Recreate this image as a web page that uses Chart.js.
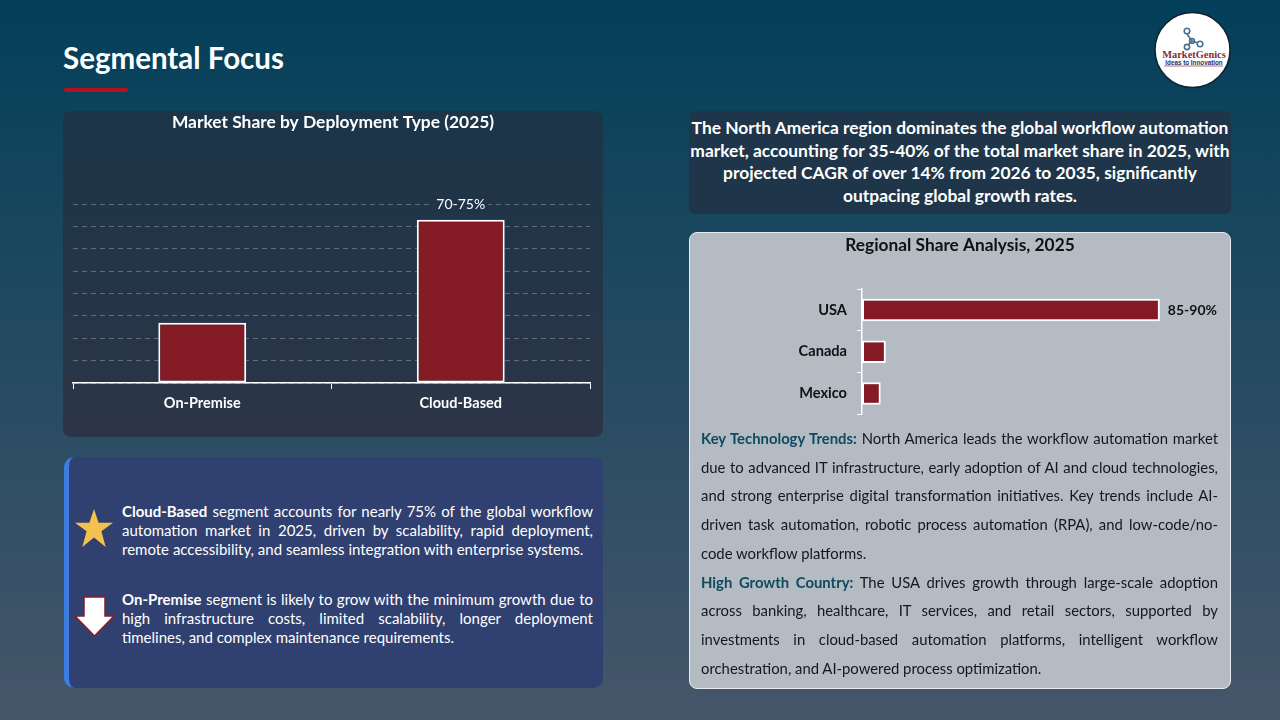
<!DOCTYPE html>
<html lang="en">
<head>
  <meta charset="UTF-8" />
  <title>Segmental Focus</title>
  <script src="https://cdn.jsdelivr.net/npm/chart.js"></script>
  <style>
    * { box-sizing: border-box; }
    html, body { margin: 0; padding: 0; }
    body { width: 1280px; height: 720px; position: relative; overflow: hidden; font-family: Lato, sans-serif;
      background: linear-gradient(180deg, #033f59 0%, #46566a 100%); }
    .abs { position: absolute; }
    h1 { position: absolute; left: 63px; top: 40px; margin: 0; font-size: 29.5px; line-height: 36px; font-weight: 700; color: #fff; }
    .rule { left: 64px; top: 88px; width: 64px; height: 4px; background: #b3121d; border-radius: 2px; }
    .panel-left { left: 63px; top: 111px; width: 540px; height: 326px; border-radius: 8px;
      background: linear-gradient(180deg, #1c3549 0%, #2c3547 100%); }
    .panel-note { left: 689px; top: 111px; width: 542px; height: 103px; border-radius: 6px; background: #1f3549;
      color: #fff; font-weight: 700; font-size: 17.4px; line-height: 22.6px; text-align: center; padding-top: 6px; white-space: nowrap; }
    .panel-blue { left: 64px; top: 457px; width: 539px; height: 231px; border-radius: 10px; background: #304070;
      border-left: 5px solid #3b7de0; color: #fff; }
    .panel-grey { left: 689px; top: 232px; width: 542px; height: 457px; border-radius: 8px; background: #b4bbc3;
      border: 1px solid #e8ebee; }
    canvas { position: absolute; display: block; }
    .j span { display: block; text-align: justify; text-align-last: justify; white-space: nowrap; }
    .j span.end { text-align-last: left; }
    .seg { left: 122px; width: 471px; font-size: 15px; line-height: 19px; color: #fff; }
    .trend { left: 701px; top: 424px; width: 517px; font-size: 14.85px; line-height: 28.72px; color: #14181c; }
    .trend b { color: #0f4a5f; }
  </style>
</head>
<body>

  <h1>Segmental Focus</h1>
  <div class="abs rule"></div>

  <div class="abs panel-left"></div>
  <canvas id="deploymentChart" width="540" height="326" style="left:63px;top:111px"></canvas>

  <div class="abs panel-blue"></div>
  <svg class="abs" style="left:70px;top:500px" width="50" height="145" viewBox="70 500 50 145">
    <polygon points="94,509 98.6,522.7 113,522.7 101.4,531.3 105.7,547 94,537.6 82.3,547 86.6,531.3 75,522.7 89.4,522.7" fill="#f2c14e" />
    <polygon points="84,597 105,597 105,616 114,616 94.5,636 75,616 84,616" fill="#fff" stroke="#8a1a26" stroke-width="1.5" />
  </svg>
  <div class="abs seg j" style="top:502px">
    <span><b>Cloud-Based</b> segment accounts for nearly 75% of the global workflow</span>
    <span>automation market in 2025, driven by scalability, rapid deployment,</span>
    <span class="end">remote accessibility, and seamless integration with enterprise systems.</span>
  </div>
  <div class="abs seg j" style="top:590px">
    <span><b>On-Premise</b> segment is likely to grow with the minimum growth due to</span>
    <span>high infrastructure costs, limited scalability, longer deployment</span>
    <span class="end">timelines, and complex maintenance requirements.</span>
  </div>

  <div class="abs panel-note">
    The North America region dominates the global workflow automation<br>
    market, accounting for 35-40% of the total market share in 2025, with<br>
    projected CAGR of over 14% from 2026 to 2035, significantly<br>
    outpacing global growth rates.
  </div>

  <div class="abs panel-grey"></div>
  <canvas id="regionChart" width="542" height="201" style="left:689px;top:232px"></canvas>
  <div class="abs trend j">
    <span><b>Key Technology Trends:</b> North America leads the workflow automation market</span>
    <span>due to advanced IT infrastructure, early adoption of AI and cloud technologies,</span>
    <span>and strong enterprise digital transformation initiatives. Key trends include AI-</span>
    <span>driven task automation, robotic process automation (RPA), and low-code/no-</span>
    <span class="end">code workflow platforms.</span>
    <span><b>High Growth Country:</b> The USA drives growth through large-scale adoption</span>
    <span>across banking, healthcare, IT services, and retail sectors, supported by</span>
    <span>investments in cloud-based automation platforms, intelligent workflow</span>
    <span class="end">orchestration, and AI-powered process optimization.</span>
  </div>

  <svg class="abs" style="left:1152px;top:10px" width="81" height="80" viewBox="0 0 81 80">
    <circle cx="40.5" cy="40" r="37.5" fill="#fff" stroke="#10202c" stroke-width="1.5" />
    <g fill="none" stroke="#4a6f8f" stroke-width="1.6">
      <line x1="35" y1="24" x2="40" y2="31" />
      <line x1="40" y1="31" x2="46" y2="33" />
      <line x1="40" y1="31" x2="36" y2="35" />
      <circle cx="35" cy="21" r="2.8" />
      <circle cx="40" cy="31" r="2.4" />
      <circle cx="48" cy="34" r="2.8" />
      <circle cx="35" cy="37" r="2.6" />
    </g>
    <text x="42" y="48" text-anchor="middle" font-family="Liberation Serif" font-weight="700" font-size="10.4" fill="#8a2a3a">MarketGenics</text>
    <text x="42" y="54.5" text-anchor="middle" font-family="Liberation Sans" font-weight="700" font-size="6.3" fill="#26306a">Ideas to Innovation</text>
    <line x1="12" y1="56" x2="71" y2="56" stroke="#a02a3a" stroke-width="0.7" />
  </svg>

  <script>
    const deploymentLabels = ['On-Premise', 'Cloud-Based'];
    const deploymentValues = [27, 73];
    const deploymentText = ['', '70-75%'];

    const regionLabels = ['USA', 'Canada', 'Mexico'];
    const regionValues = [87.5, 7, 5.5];
    const regionText = ['85-90%', '', ''];

    const FONT = 'Lato, sans-serif';
    const BAR_RED = '#831a24';

    // writes the text labels next to the bars
    const barText = {
      id: 'barText',
      afterDatasetsDraw(chart, args, opts) {
        const ctx = chart.ctx;
        const horizontal = chart.options.indexAxis === 'y';
        ctx.save();
        ctx.font = opts.font;
        chart.getDatasetMeta(0).data.forEach((bar, i) => {
          const text = opts.text[i];
          if (!text) return;
          ctx.textBaseline = 'middle';
          if (horizontal) {
            ctx.textAlign = 'left';
            ctx.fillStyle = opts.color;
            ctx.fillText(text, bar.x + 8, bar.y);
          } else {
            ctx.textAlign = 'center';
            const w = ctx.measureText(text).width;
            ctx.fillStyle = opts.mask;
            ctx.fillRect(bar.x - w / 2 - 3, bar.y - 25, w + 6, 18);
            ctx.fillStyle = opts.color;
            ctx.fillText(text, bar.x, bar.y - 15.5);
          }
        });
        ctx.restore();
      }
    };

    new Chart(document.getElementById('deploymentChart'), {
      type: 'bar',
      plugins: [barText],
      data: {
        labels: deploymentLabels,
        datasets: [{
          data: deploymentValues,
          backgroundColor: BAR_RED,
          borderColor: '#fff',
          borderWidth: 2,
          borderSkipped: false,
          barPercentage: 0.34,
          categoryPercentage: 1
        }]
      },
      options: {
        responsive: false,
        animation: false,
        plugins: {
          legend: { display: false },
          tooltip: { enabled: false },
          title: {
            display: true,
            text: 'Market Share by Deployment Type (2025)',
            color: '#fff',
            font: { family: FONT, size: 17.4, weight: '700' },
            padding: { top: 1, bottom: 71.3 }
          },
          barText: { text: deploymentText, font: '14px ' + FONT, color: '#fff', mask: '#1f3449' }
        },
        scales: {
          x: {
            afterFit: s => { s.height = 54; },
            border: { color: '#fff', width: 1.5 },
            grid: { drawOnChartArea: false, color: '#fff', tickLength: 6, offset: true },
            ticks: { color: '#fff', padding: 6, font: { family: FONT, size: 14.5, weight: '700' } }
          },
          y: {
            min: 0,
            max: 80,
            afterFit: s => { s.width = 10; },
            border: { display: false, dash: [5, 4] },
            grid: { color: 'rgba(255,255,255,0.28)', drawTicks: false, lineWidth: 1 },
            ticks: { display: false, stepSize: 10 }
          },
          // empty axis, holds the plot off the right edge without moving the title
          side: {
            position: 'right',
            afterFit: s => { s.width = 13; },
            border: { display: false },
            grid: { display: false },
            ticks: { display: false }
          }
        }
      }
    });

    new Chart(document.getElementById('regionChart'), {
      type: 'bar',
      plugins: [barText],
      data: {
        labels: regionLabels,
        datasets: [{
          data: regionValues,
          backgroundColor: BAR_RED,
          borderColor: '#fff',
          borderWidth: 2,
          borderSkipped: false,
          barPercentage: 0.54,
          categoryPercentage: 1
        }]
      },
      options: {
        indexAxis: 'y',
        responsive: false,
        animation: false,
        layout: { padding: { bottom: 2 } },
        plugins: {
          legend: { display: false },
          tooltip: { enabled: false },
          title: {
            display: true,
            text: 'Regional Share Analysis, 2025',
            color: '#111',
            font: { family: FONT, size: 17.3, weight: '700' },
            padding: { top: 3, bottom: 33.4 }
          },
          barText: { text: regionText, font: '700 14px ' + FONT, color: '#111' }
        },
        scales: {
          x: { display: false, min: 0, max: 108.4 },
          y: {
            afterFit: s => { s.width = 173; },
            border: { color: '#fff', width: 1.5 },
            grid: { drawOnChartArea: false, color: '#fff', tickLength: 5, offset: true },
            ticks: { color: '#111', padding: 10, font: { family: FONT, size: 14.6, weight: '700' } }
          }
        }
      }
    });
  </script>

</body>
</html>
